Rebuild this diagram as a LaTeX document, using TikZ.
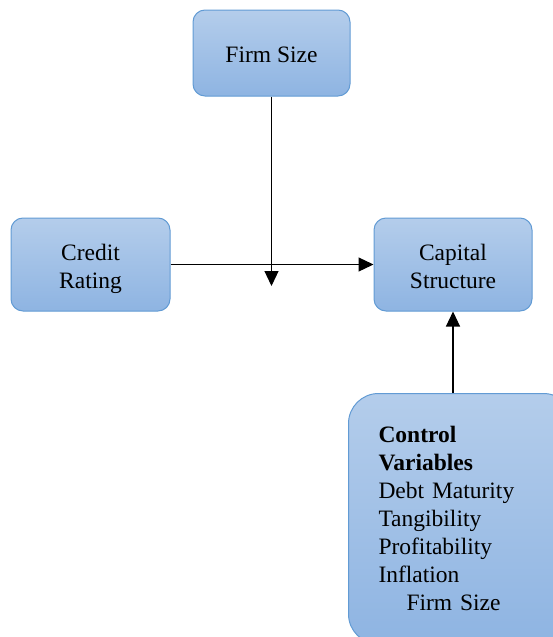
\documentclass[tikz,border=0pt]{standalone}
\usepackage{fontspec}
\setmainfont{Liberation Serif}
\newfontfamily\timesfont{Liberation Serif}
\usepackage{tikz}
\usetikzlibrary{arrows.meta,shapes,calc}
\definecolor{boxtop}{RGB}{180,205,235}
\definecolor{boxbot}{RGB}{142,180,226}
\definecolor{boxline}{RGB}{98,155,212}
\newcommand{\topstrut}{\rule{0pt}{27.5pt}}
\tikzstyle{varbox}=[rectangle, rounded corners=12pt, draw=boxline, line width=1pt, top color=boxtop, bottom color=boxbot, align=center, font=\timesfont\fontsize{23.5}{28}\selectfont, inner sep=0pt]
\tikzstyle{link}=[-{Triangle[length=15pt,width=14pt]}, line width=1.2pt, black]

\begin{document}
\begin{tikzpicture}[x=1pt,y=-1pt]
    \useasboundingbox (0,0) rectangle (553,637);
    \clip (0,0) rectangle (553,637);
    %%%%%  Variables  %%%%%
    \node (size) [varbox, minimum width=157pt, minimum height=86pt] at (271.5,53) {\topstrut Firm Size\strut};
    \node (rating) [varbox, minimum width=159pt, minimum height=93pt] at (90.5,264.5) {\topstrut Credit\\Rating\strut};
    \node (capital) [varbox, minimum width=158pt, minimum height=93pt] at (453,264.5) {\topstrut Capital\\Structure\strut};

    %%%%%  Variables de control  %%%%%
    \node (control) [varbox, rounded corners=30pt, anchor=north west, align=left, text width=165pt, inner xsep=30pt, inner ysep=33pt] at (348,393)
      {\textbf{Control}\\\textbf{Variables}\\Debt Maturity\\Tangibility\\Profitability\\Inflation\\\hspace*{28pt}Firm Size};

    %%%%%  Flechas  %%%%%
    \coordinate (sizeend) at (271.5,286);
    \draw [link] (size.south) -- (sizeend);
    \draw [link] (rating.east) -- (capital.west);
    \draw [link] (capital.south |- control.north) -- (capital.south);
\end{tikzpicture}
\end{document}
